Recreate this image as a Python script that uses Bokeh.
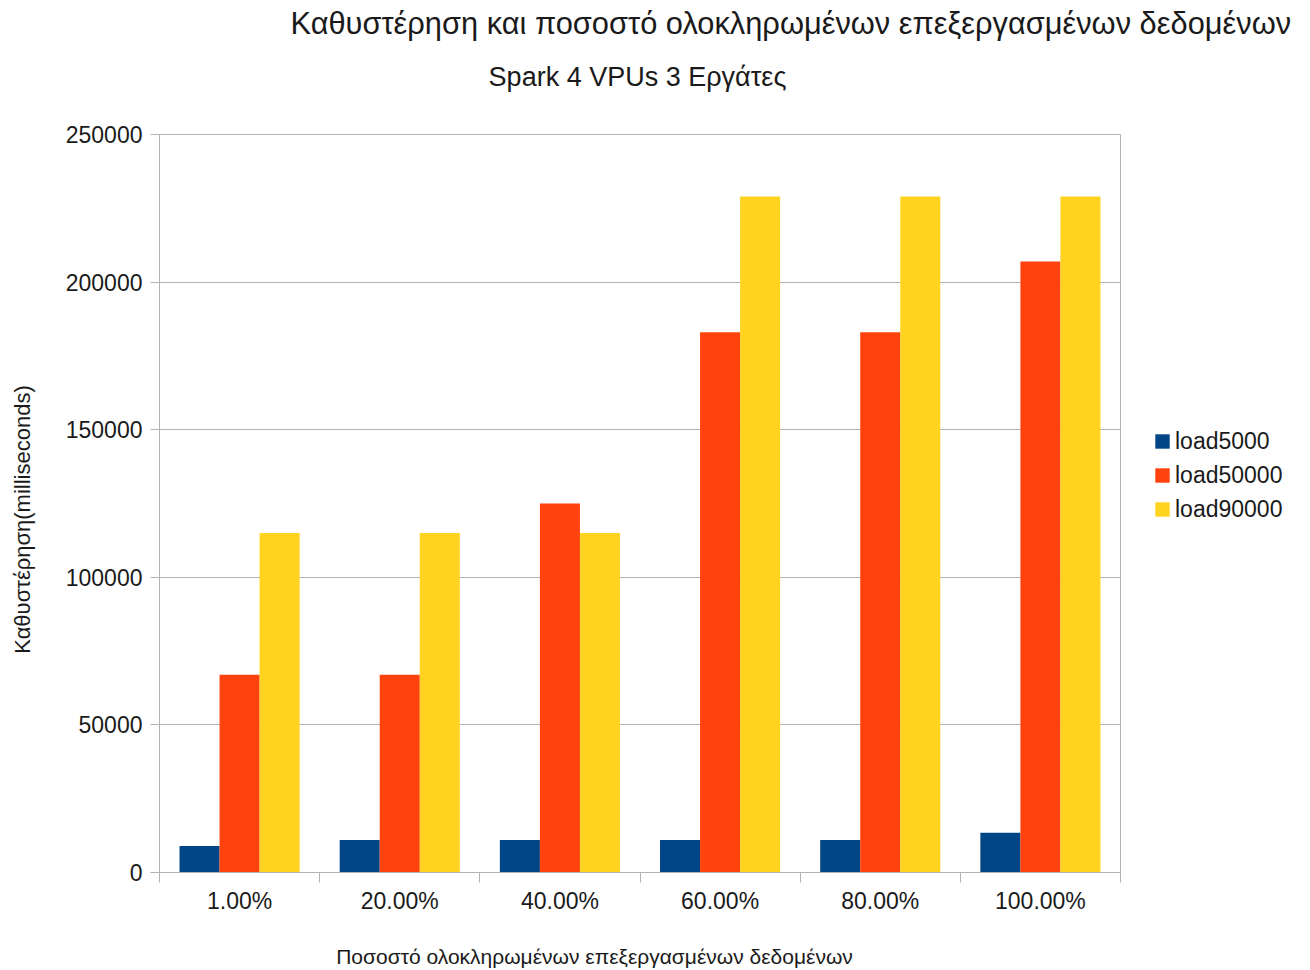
import math
from bokeh.plotting import figure
from bokeh.layouts import column, row
from bokeh.models import (ColumnDataSource, Range1d, FixedTicker, NumeralTickFormatter,
                          Legend, LegendItem, Label, LinearAxis)
from bokeh.transform import dodge
from bokeh.embed import file_html
from bokeh.resources import INLINE

# ---- data ----
categories = ["1.00%", "20.00%", "40.00%", "60.00%", "80.00%", "100.00%"]
load5000 = [9000, 11000, 11000, 11000, 11000, 13500]
load50000 = [67000, 67000, 125000, 183000, 183000, 207000]
load90000 = [115000, 115000, 115000, 229000, 229000, 229000]
series_names = ["load5000", "load50000", "load90000"]
series_colors = ["#004586", "#ff420e", "#ffd320"]
y_ticks = [0, 50000, 100000, 150000, 200000, 250000]

title_text = "Καθυστέρηση και ποσοστό ολοκληρωμένων επεξεργασμένων δεδομένων"
subtitle_text = "Spark 4 VPUs 3 Εργάτες"
x_label = "Ποσοστό ολοκληρωμένων επεξεργασμένων δεδομένων"
y_label = "Καθυστέρηση(milliseconds)"

FONT = "Liberation Sans"
TXT = "#1a1a1a"
GREY = "#b3b3b3"

# ---- page layout (pixels) ----
W, H = 1310, 970
TOP_H = 110                    # height of the title strip
FL, FR, FT, FB = 159, 1120, 134, 872   # plot frame edges on the page
YL_W = 45                      # width of the y-title strip
MAIN_R = 1130                  # right edge of the chart canvas
MAIN_W = MAIN_R - YL_W
LEG_W = W - MAIN_R
ROW_H = H - TOP_H
YMAX = y_ticks[-1]
NCAT = len(categories)


def blank(width, height, xr, yr):
    f = figure(width=width, height=height, output_backend="svg", toolbar_location=None,
               x_range=xr, y_range=yr, x_axis_type=None, y_axis_type=None, min_border=0)
    f.grid.visible = False
    f.outline_line_color = None
    return f


# ---------------- title strip ----------------
pt = blank(W, TOP_H, Range1d(0, W), Range1d(TOP_H, 0))
pt.add_layout(Label(x=290, y=22.5, text=title_text, text_align="left",
                    text_baseline="middle", text_font=FONT, text_font_size="30.8px",
                    text_color=TXT))
pt.add_layout(Label(x=637, y=76, text=subtitle_text, text_align="center",
                    text_baseline="middle", text_font=FONT, text_font_size="27px",
                    text_color=TXT))

# ---------------- y-title strip (frame aligned with the chart frame) ----------------
py = blank(YL_W, ROW_H, Range1d(0, YL_W), Range1d(FB, FT))
py.add_layout(Label(x=22, y=519, text=y_label, text_align="center",
                    text_baseline="middle", angle=math.pi / 2, text_font=FONT,
                    text_font_size="22px", text_color=TXT))

# ---------------- chart ----------------
centers = [i + 0.5 for i in range(NCAT)]
src = ColumnDataSource(dict(x=centers, load5000=load5000, load50000=load50000,
                            load90000=load90000))

p = figure(width=MAIN_W, height=ROW_H, output_backend="svg", toolbar_location=None,
           x_range=Range1d(0, NCAT), y_range=Range1d(0, YMAX),
           title=None, min_border_left=FL - YL_W, min_border_right=MAIN_R - FR,
           min_border_top=FT - TOP_H, min_border_bottom=H - FB)
p.background_fill_color = "white"
p.border_fill_color = "white"
p.outline_line_color = GREY
p.outline_line_width = 1

# pixel-based helper range used only to place the x axis title
p.extra_x_ranges = {"px": Range1d(FL, FR)}

offsets = [-0.25, 0.0, 0.25]
for name, col, off in zip(series_names, series_colors, offsets):
    p.vbar(x=dodge("x", off, range=p.x_range), top=name, width=0.25, source=src,
           fill_color=col, line_color=None)

# grid
p.xgrid.grid_line_color = None
p.ygrid.grid_line_color = GREY
p.ygrid.grid_line_width = 1
p.ygrid.ticker = FixedTicker(ticks=y_ticks)

# x axis
xa = p.xaxis[0]
xa.ticker = FixedTicker(ticks=centers, minor_ticks=list(range(NCAT + 1)))
xa.major_label_overrides = {c: lab for c, lab in zip(centers, categories)}
xa.major_tick_line_color = None
xa.major_tick_out = 0
xa.major_tick_in = 0
xa.minor_tick_line_color = GREY
xa.minor_tick_out = 10
xa.minor_tick_in = 0
xa.axis_line_color = GREY
xa.major_label_standoff = 5
xa.major_label_text_font = FONT
xa.major_label_text_font_size = "23px"
xa.major_label_text_color = TXT

# y axis
ya = p.yaxis[0]
ya.ticker = FixedTicker(ticks=y_ticks)
ya.formatter = NumeralTickFormatter(format="0")
ya.axis_line_color = GREY
ya.major_tick_line_color = GREY
ya.major_tick_out = 9
ya.major_tick_in = 0
ya.minor_tick_line_color = None
ya.major_label_standoff = 8
ya.major_label_text_font = FONT
ya.major_label_text_font_size = "23px"
ya.major_label_text_color = TXT

# x axis title (outer axis below, one labelled position)
x_title_pos = 594
xt = LinearAxis(x_range_name="px", ticker=FixedTicker(ticks=[x_title_pos]),
                major_label_overrides={x_title_pos: x_label},
                axis_line_color=None, major_tick_line_color=None,
                minor_tick_line_color=None, major_tick_out=0, major_tick_in=0,
                major_label_standoff=28, major_label_text_font=FONT,
                major_label_text_font_size="21px", major_label_text_color=TXT)
p.add_layout(xt, "below")

# ---------------- legend canvas (frame aligned with the chart frame) ----------------
pl = blank(LEG_W, ROW_H, Range1d(0, 1), Range1d(0, 1))
swatch = ColumnDataSource(dict(x=[0], top=[0]))
proxies = [pl.vbar(x="x", top="top", width=0, source=swatch, fill_color=c, line_color=None)
           for c in series_colors]
legend = Legend(items=[LegendItem(label=n, renderers=[r]) for n, r in zip(series_names, proxies)],
                location=(1153 - MAIN_R, FB - 522.5), orientation="vertical",
                padding=0, margin=0, spacing=7, glyph_width=18, glyph_height=18,
                label_height=20, label_standoff=4, label_text_font=FONT,
                label_text_font_size="23px", label_text_color=TXT,
                border_line_color=None, background_fill_alpha=0)
pl.add_layout(legend, "center")

page = column(pt, row(py, p, pl, spacing=0), spacing=0)
open("out.html", "w").write(file_html(page, INLINE))
